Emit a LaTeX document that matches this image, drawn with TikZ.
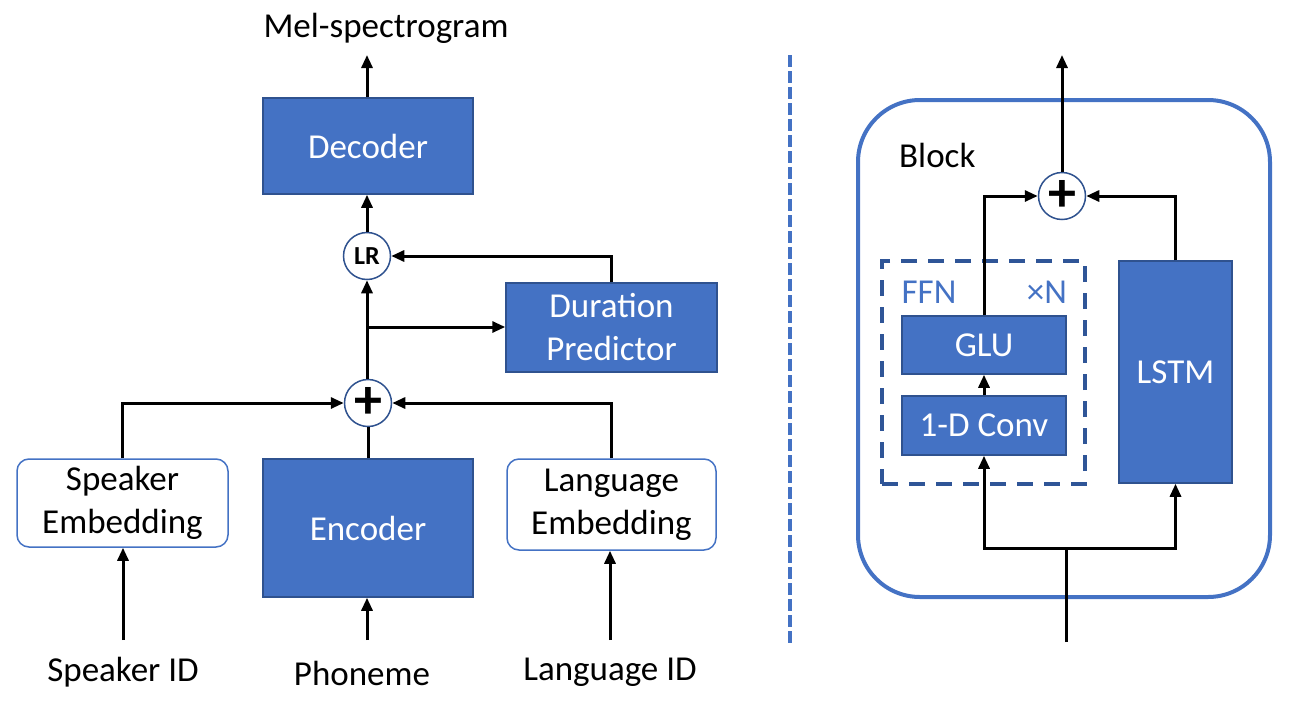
\documentclass[tikz,border=0pt]{standalone}
\usepackage{fontspec}
\setmainfont{Carlito}
\usetikzlibrary{arrows.meta}
\definecolor{myblue}{HTML}{4472C4}
\definecolor{myborder}{HTML}{2F528F}
\definecolor{mydash}{HTML}{2F5597}
\begin{document}
\begin{tikzpicture}[x=1pt,y=-1pt,
  font=\fontsize{35}{42}\selectfont,
  blk/.style={rectangle, fill=myblue, draw=myborder, line width=1.5pt, text=white, inner sep=0pt, align=center},
  emb/.style={rectangle, rounded corners=12pt, fill=white, draw=myblue, line width=1.5pt, inner sep=0pt, align=center},
  sumc/.style={circle, fill=white, draw=myborder, line width=1.5pt, minimum size=47pt, inner sep=0pt},
  plus/.style={sumc, font=\fontsize{56}{56}\selectfont\bfseries},
  ln/.style={line width=3pt, black},
  arr/.style={line width=3pt, black, -{Triangle[length=13pt,width=11pt]}},
  lbl/.style={inner sep=0pt, text=black}
]
\useasboundingbox (0,0) rectangle (1294,702);

% ---------- left diagram ----------
\node[lbl] (mel) at (386,28) {Mel-spectrogram};
\coordinate (meltop) at (367,55);
\node[blk, minimum width=210pt, minimum height=96pt] (dec) at (368,146) {Decoder};
\node[sumc, font=\fontsize{26}{30}\selectfont\bfseries] (lr) at (367,256) {LR};
\node[blk, minimum width=211pt, minimum height=89pt, font=\fontsize{35}{43}\selectfont] (dur) at (611.5,327.5) {Duration\\Predictor};
\node[plus] (sum1) at (368,403) {+};
\node[emb, minimum width=211pt, minimum height=88pt, font=\fontsize{35}{43}\selectfont] (spk) at (122.5,503) {Speaker\\Embedding};
\node[blk, minimum width=210pt, minimum height=138pt] (enc) at (368,528) {Encoder};
\node[emb, minimum width=209pt, minimum height=91pt, font=\fontsize{35}{43}\selectfont] (lang) at (611.5,504.5) {Language\\Embedding};

\node[lbl] (spkid) at (123,672) {Speaker ID};
\node[lbl] (phon) at (362,673) {Phoneme};
\node[lbl] (langid) at (610,672) {Language ID};
\coordinate (spkin) at (123,640);
\coordinate (phonin) at (367,640);
\coordinate (langin) at (610,640);
\coordinate (branch) at (367,327);

\draw[arr] (dec.north -| meltop) -- (meltop);
\draw[arr] (lr.north) -- (lr.north |- dec.south);
\draw[arr] (dur.north) |- (lr.east);
\draw[arr] (sum1.north -| lr) -- (lr.south);
\draw[arr] (branch) -- (branch -| dur.west);
\draw[ln] (enc.north -| sum1) -- (sum1.south);
\draw[arr] (spk.north) |- (sum1.west);
\draw[arr] (lang.north) |- (sum1.east);
\draw[arr] (spkin) -- (spkin |- spk.south);
\draw[arr] (phonin) -- (phonin |- enc.south);
\draw[arr] (langin) -- (langin |- lang.south);

% ---------- separator ----------
\draw[myblue, line width=4pt, dash pattern=on 12pt off 4pt] (790,55) -- (790,643);

% ---------- right diagram ----------
\node[rectangle, rounded corners=62pt, draw=myblue, line width=4pt, minimum width=412pt, minimum height=497pt, inner sep=0pt] (blockframe) at (1064,348.5) {};
\node[lbl, anchor=west] (blocklbl) at (899,155) {Block};
\node[plus] (sum2) at (1062,196) {+};
\coordinate (outtop) at (1062,55);
\node[rectangle, draw=mydash, line width=4pt, dash pattern=on 16pt off 11pt, minimum width=203pt, minimum height=223pt, inner sep=0pt] (ffn) at (983.5,372.5) {};
\node[lbl, text=myblue] (ffnlbl) at (929,292) {FFN};
\node[lbl, text=myblue] (xn) at (1047,292) {×N};
\node[blk, minimum width=164pt, minimum height=58pt] (glu) at (984,345) {GLU};
\node[blk, minimum width=164pt, minimum height=59pt] (conv) at (984,425.5) {1-D Conv};
\node[blk, minimum width=113pt, minimum height=222pt] (lstm) at (1175.5,372) {LSTM};
\coordinate (rin) at (1066,642);
\coordinate (junc) at (1066,548);

\draw[arr] (sum2.north) -- (outtop);
\draw[arr] (glu.north) |- (sum2.west);
\draw[arr] (lstm.north) |- (sum2.east);
\draw[arr] (conv.north) -- (glu.south);
\draw[ln] (rin) -- (junc);
\draw[arr] (junc) -| (conv.south);
\draw[arr] (junc) -| (lstm.south);
\end{tikzpicture}
\end{document}
